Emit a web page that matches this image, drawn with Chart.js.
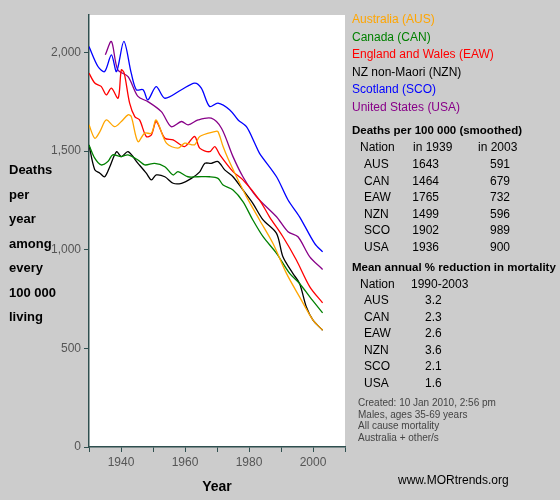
<!DOCTYPE html>
<html>
<head>
<meta charset="utf-8">
<script src="https://cdn.jsdelivr.net/npm/chart.js@4"></script>
<style>
  body { margin: 0; background: #cccccc; font-family: Arial, "Liberation Sans", sans-serif; }
  #wrap { position: relative; width: 560px; height: 500px; }
  .t { position: absolute; font-size: 12px; white-space: nowrap; color: #000; }
  .b { font-weight: bold; font-size: 11.5px; }
  .s { font-size: 10px; color: #444; }
  .r { text-align: right; }
</style>
</head>
<body>
<div id="wrap">
  <canvas id="c" width="560" height="500"></canvas>
  <div class="t b" style="left:9px;top:158px;line-height:24.5px;font-size:13px">Deaths<br>per<br>year<br>among<br>every<br>100 000<br>living</div>
  <div id="legend"></div>
  <div id="tables"></div>
  <div class="t s" style="left:358px;top:397px;line-height:11.5px">Created: 10 Jan 2010, 2:56 pm<br>Males, ages 35-69 years<br>All cause mortality<br>Australia + other/s</div>
  <div class="t" style="left:398px;top:473px">www.MORtrends.org</div>
</div>
<script>
// data
const nations = ['AUS', 'CAN', 'EAW', 'NZN', 'SCO', 'USA']
const names = ['Australia (AUS)', 'Canada (CAN)', 'England and Wales (EAW)', 'NZ non-Maori (NZN)', 'Scotland (SCO)', 'United States (USA)']
const colors = ['#ffa500', '#008000', '#ff0000', '#000000', '#0000ff', '#880088']
const yTicks = [0, 500, 1000, 1500, 2000]

const ausYears = [1930, 1931.8, 1933.4, 1935.4, 1938, 1940.1, 1942.2, 1943.2, 1945.3, 1947.4, 1949.5, 1951, 1954.2, 1957.8, 1959.9, 1963, 1964.6, 1969.3, 1970.3, 1971.9, 1973.4, 1976.1, 1979.2, 1983.3, 1987.5, 1991.7, 1995.8, 2000, 2003]
const ausValues = [1633, 1565, 1599, 1658, 1624, 1650, 1684, 1675, 1548, 1591, 1591, 1658, 1540, 1515, 1540, 1532, 1574, 1599, 1599, 1523, 1464, 1370, 1269, 1151, 1032, 880, 761, 643, 592]

const canYears = [1930, 1931.8, 1933.8, 1935.9, 1937.4, 1940, 1942.2, 1945.3, 1947.4, 1950.5, 1953.7, 1956.3, 1957.8, 1960.9, 1964, 1967.7, 1970.3, 1971.9, 1975, 1978.1, 1981.2, 1984.4, 1988.6, 1992.7, 1995.8, 1999, 2003]
const canValues = [1531, 1464, 1430, 1447, 1481, 1472, 1481, 1455, 1430, 1438, 1421, 1379, 1396, 1370, 1370, 1370, 1362, 1328, 1303, 1244, 1151, 1066, 982, 880, 829, 761, 680]

const eawYears = [1930, 1931.8, 1933.8, 1935.4, 1937, 1939.1, 1940.1, 1941, 1942.7, 1944.3, 1945.8, 1947.9, 1949.5, 1951, 1953.7, 1956.3, 1959.9, 1963, 1964.6, 1967.7, 1969.3, 1970.9, 1975, 1978.1, 1983.3, 1986.4, 1990.6, 1994.8, 1999, 2003]
const eawValues = [1895, 1845, 1828, 1785, 1819, 1768, 1912, 1895, 1743, 1675, 1658, 1574, 1582, 1650, 1565, 1557, 1523, 1574, 1515, 1497, 1523, 1481, 1396, 1354, 1252, 1167, 1066, 948, 812, 731]

const nznYears = [1930, 1931.8, 1933.4, 1934.9, 1936.5, 1938.6, 1940.1, 1942.2, 1945.3, 1947.9, 1949.5, 1951, 1953.7, 1956.3, 1958.9, 1962, 1964.6, 1966.2, 1968.2, 1970.3, 1972.4, 1975, 1978.1, 1981.2, 1984.4, 1988.6, 1990.6, 1993.7, 1995.8, 1997.9, 2000, 2003]
const nznValues = [1531, 1405, 1388, 1370, 1421, 1497, 1472, 1497, 1438, 1388, 1354, 1379, 1370, 1337, 1337, 1362, 1395, 1438, 1438, 1447, 1405, 1370, 1303, 1235, 1151, 1083, 964, 880, 829, 711, 643, 592]

const scoYears = [1930, 1932.8, 1934.9, 1937, 1938.6, 1940.9, 1943.2, 1944.8, 1946.9, 1948.4, 1951, 1953.7, 1958.9, 1963, 1965.1, 1967.7, 1970.3, 1974, 1976.6, 1979.2, 1981.8, 1983.3, 1988.6, 1992.2, 1995.8, 2000.5, 2003]
const scoValues = [2030, 1929, 1903, 1988, 1903, 2056, 1895, 1811, 1811, 1760, 1827, 1768, 1811, 1845, 1819, 1726, 1743, 1709, 1658, 1624, 1540, 1489, 1370, 1252, 1167, 1032, 989]

const usaYears = [1935.1, 1937, 1939, 1942.2, 1945.3, 1948.4, 1952.6, 1955.7, 1958.9, 1961, 1964.1, 1968.2, 1971.4, 1975, 1978.1, 1982.3, 1988.6, 1992.2, 1995.3, 1999, 2003]
const usaValues = [1988, 2056, 1912, 1878, 1777, 1751, 1700, 1624, 1650, 1633, 1658, 1667, 1616, 1472, 1370, 1269, 1167, 1091, 1066, 964, 900]

const seriesYears = [ausYears, canYears, eawYears, nznYears, scoYears, usaYears]
const seriesValues = [ausValues, canValues, eawValues, nznValues, scoValues, usaValues]

const deaths1939 = [1643, 1464, 1765, 1499, 1902, 1936]
const deaths2003 = [591, 679, 732, 596, 989, 900]
const reduction = ['3.2', '2.3', '2.6', '3.6', '2.1', '1.6']

// right-hand panel text
const legend = document.getElementById('legend')
names.forEach((n, i) => {
  legend.innerHTML += `<div class="t" style="left:352px;top:${12 + i * 17.5}px;color:${colors[i]}">${n}</div>`
})
let html = '<div class="t b" style="left:352px;top:124px">Deaths per 100 000 (smoothed)</div>'
html += '<div class="t" style="left:360px;top:140px">Nation</div><div class="t" style="left:413px;top:140px">in 1939</div><div class="t" style="left:478px;top:140px">in 2003</div>'
nations.forEach((n, i) => {
  const y = 157 + i * 16.5
  html += `<div class="t" style="left:364px;top:${y}px">${n}</div>`
  html += `<div class="t r" style="left:400px;width:39px;top:${y}px">${deaths1939[i]}</div>`
  html += `<div class="t r" style="left:470px;width:40px;top:${y}px">${deaths2003[i]}</div>`
})
html += '<div class="t b" style="left:352px;top:261px">Mean annual % reduction in mortality</div>'
html += '<div class="t" style="left:360px;top:277px">Nation</div><div class="t" style="left:411px;top:277px">1990-2003</div>'
nations.forEach((n, i) => {
  const y = 293 + i * 16.6
  html += `<div class="t" style="left:364px;top:${y}px">${n}</div>`
  html += `<div class="t" style="left:425px;top:${y}px">${reduction[i]}</div>`
})
document.getElementById('tables').innerHTML = html

const plotBg = {
  id: 'plotBg',
  beforeDraw(chart) {
    const { ctx, chartArea: a } = chart
    ctx.save()
    ctx.fillStyle = '#ffffff'
    ctx.fillRect(a.left, a.top, a.right - a.left, a.bottom - a.top)
    ctx.restore()
  }
}

const axisColor = '#2f4f4f'

new Chart(document.getElementById('c'), {
  type: 'line',
  data: {
    datasets: nations.map((n, i) => ({
      label: n,
      data: seriesYears[i].map((yr, k) => ({ x: yr, y: seriesValues[i][k] })),
      borderColor: colors[i],
      borderWidth: 1.3,
      pointRadius: 0,
      tension: 0.3,
      fill: false
    }))
  },
  options: {
    responsive: false,
    animation: false,
    layout: { padding: { top: 15, right: 215, left: 0, bottom: 0 } },
    plugins: { legend: { display: false }, tooltip: { enabled: false } },
    scales: {
      x: {
        type: 'linear',
        min: 1930, max: 2010,
        afterFit: s => { s.height = 53 },
        grid: { drawOnChartArea: false, tickLength: 5, color: axisColor },
        border: { color: axisColor, width: 1.5 },
        ticks: { stepSize: 10, autoSkip: false, maxRotation: 0, minRotation: 0, color: '#555', font: { size: 12, family: 'Arial' }, callback: v => v % 20 === 0 ? v : '' },
        title: { display: true, text: 'Year', color: '#000', font: { size: 14, weight: 'bold', family: 'Arial' }, padding: { top: 2 } }
      },
      y: {
        min: 0, max: 2190,
        afterFit: s => { s.width = 89 },
        afterBuildTicks: s => { s.ticks = yTicks.map(v => ({ value: v })) },
        grid: { drawOnChartArea: false, tickLength: 5, color: axisColor },
        border: { color: axisColor, width: 1.5 },
        ticks: { autoSkip: false, color: '#555', font: { size: 12, family: 'Arial' } }
      }
    }
  },
  plugins: [plotBg]
})
</script>
</body>
</html>
